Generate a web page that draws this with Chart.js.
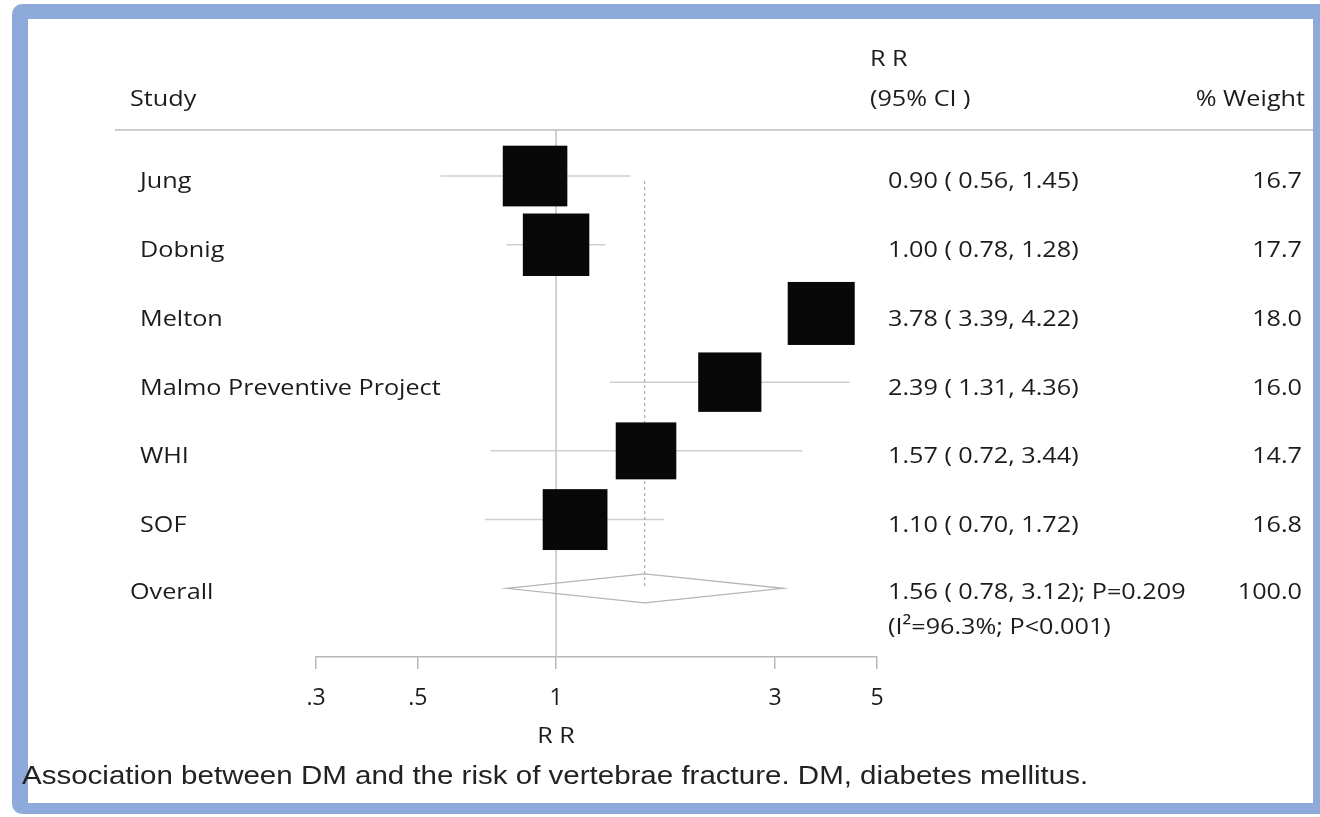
<!DOCTYPE html>
<html>
<head>
<meta charset="utf-8">
<script src="https://cdn.jsdelivr.net/npm/chart.js@4.4.1/dist/chart.umd.min.js"></script>
<style>
  html, body { margin: 0; padding: 0; background: #fff; width: 1320px; height: 817px; overflow: hidden; }
  #frame { position: absolute; left: 12px; top: 4px; width: 1340px; height: 810px; background: #8eaadb; border-radius: 10px; }
  #panel { position: absolute; left: 28px; top: 19px; width: 1285px; height: 784px; background: #fff; }
  #chart { position: absolute; left: 0; top: 0; }
  #caption { position: absolute; left: 22px; top: 760px; font-family: "Liberation Sans", Arial, sans-serif;
             font-size: 26px; line-height: 30px; color: #222; white-space: nowrap;
             transform: scaleX(1.135); transform-origin: 0 0; }
</style>
</head>
<body>
<div id="frame"></div>
<div id="panel"></div>
<canvas id="chart" width="1320" height="817"></canvas>
<div id="caption">Association between DM and the risk of vertebrae fracture. DM, diabetes mellitus.</div>
<script>
// Study-level relative risks with 95% confidence limits and weights
const studies = ['Jung', 'Dobnig', 'Melton', 'Malmo Preventive Project', 'WHI', 'SOF'];
const rr      = [0.90, 1.00, 3.78, 2.39, 1.57, 1.10];
const lower   = [0.56, 0.78, 3.39, 1.31, 0.72, 0.70];
const upper   = [1.45, 1.28, 4.22, 4.36, 3.44, 1.72];
const weights = [16.7, 17.7, 18.0, 16.0, 14.7, 16.8];

// Pooled estimate
const overallLabel  = 'Overall';
const overallRR     = 1.56;
const overallLower  = 0.78;
const overallUpper  = 3.12;
const overallP      = '0.209';
const overallWeight = 100.0;
const heterogeneity = '(I\u00B2=96.3%; P<0.001)';

// Axis ticks
const tickValues = [0.3, 0.5, 1, 3, 5];
const tickLabels = ['.3', '.5', '1', '3', '5'];
const axisTitle  = 'RR';

const FONT = '"Open Sans", "Noto Sans", sans-serif';
const TEXT_COLOR = '#1c1c1c';
const TEXT_SIZE = 22.5;    // px
const TEXT_STRETCH = 1.12; // horizontal stretch of the table lettering
const nRows = studies.length;          // index of the pooled row

const fmt = v => v.toFixed(2);
const ciText = (e, l, u) => `${fmt(e)} ( ${fmt(l)}, ${fmt(u)})`;

const forestPlugin = {
  id: 'forest',
  afterDraw(chart) {
    const { ctx, chartArea: a, scales: { x, y } } = chart;
    const X = v => x.getPixelForValue(v);
    const Y = v => y.getPixelForValue(v);
    const seg = (x1, y1, x2, y2, color, width) => {
      ctx.beginPath();
      ctx.strokeStyle = color;
      ctx.lineWidth = width;
      ctx.moveTo(x1, y1);
      ctx.lineTo(x2, y2);
      ctx.stroke();
    };
    const text = (str, tx, ty, align) => {
      ctx.save();
      ctx.translate(tx, ty);
      ctx.scale(TEXT_STRETCH, 1);
      ctx.textAlign = align;
      ctx.fillText(str, 0, 0);
      ctx.restore();
    };
    ctx.save();

    // header rule and null line
    seg(115, a.top, 1313, a.top, '#bcbcbc', 1.5);
    seg(X(1), a.top, X(1), a.bottom, '#c2c2c2', 1.5);

    // confidence intervals
    studies.forEach((s, i) => seg(X(lower[i]), Y(i), X(upper[i]), Y(i), '#cfcfcf', 1.5));

    // pooled estimate reference line
    ctx.setLineDash([3, 3]);
    seg(X(overallRR), Y(0) + 5, X(overallRR), Y(nRows), '#9c9c9c', 1);
    ctx.setLineDash([]);

    // weight-scaled boxes
    ctx.fillStyle = '#080808';
    studies.forEach((s, i) => {
      const w = 15.8 * Math.sqrt(weights[i]);
      const h = 14.85 * Math.sqrt(weights[i]);
      ctx.fillRect(X(rr[i]) - w / 2, Y(i) - h / 2, w, h);
    });

    // pooled diamond
    const yc = Y(nRows), hh = 14.5;
    ctx.beginPath();
    ctx.moveTo(X(overallLower), yc);
    ctx.lineTo(X(overallRR), yc - hh);
    ctx.lineTo(X(overallUpper), yc);
    ctx.lineTo(X(overallRR), yc + hh);
    ctx.closePath();
    ctx.strokeStyle = '#b4b4b4';
    ctx.lineWidth = 1.3;
    ctx.stroke();

    // table text
    ctx.fillStyle = TEXT_COLOR;
    ctx.font = `${TEXT_SIZE}px ${FONT}`;
    ctx.textBaseline = 'middle';
    text('R R', 870, 60, 'left');
    text('(95% CI )', 870, 100, 'left');
    text('Study', 130, 100, 'left');
    text('% Weight', 1305, 100, 'right');

    const dy = 6;
    studies.forEach((s, i) => {
      const yy = Y(i) + dy;
      text(s, 140, yy, 'left');
      text(ciText(rr[i], lower[i], upper[i]), 888, yy, 'left');
      text(weights[i].toFixed(1), 1302, yy, 'right');
    });
    const yo = Y(nRows) + dy - 2;
    text(overallLabel, 130, yo, 'left');
    text(`${ciText(overallRR, overallLower, overallUpper)}; P=${overallP}`, 888, yo, 'left');
    text(heterogeneity, 888, yo + 35, 'left');
    text(overallWeight.toFixed(1), 1302, yo, 'right');

    // axis title, centred under the null value
    text(axisTitle.split('').join(' '), X(1), 737, 'center');

    ctx.restore();
  }
};

new Chart(document.getElementById('chart'), {
  type: 'scatter',
  data: { datasets: [{ data: rr.map((v, i) => ({ x: v, y: i })), pointRadius: 0 }] },
  options: {
    responsive: false,
    animation: false,
    events: [],
    layout: { padding: { left: 316, right: 443, top: 130, bottom: 68 } },
    plugins: { legend: { display: false }, tooltip: { enabled: false } },
    scales: {
      x: {
        type: 'logarithmic',
        position: 'bottom',
        min: 0.3,
        max: 5,
        bounds: 'data',
        afterBuildTicks: s => { s.ticks = tickValues.map(v => ({ value: v })); },
        afterFit: s => { s.height = 92; },
        ticks: {
          autoSkip: false,
          maxRotation: 0,
          padding: 16,
          color: TEXT_COLOR,
          font: { family: FONT, size: 23 },
          callback: (v, i) => tickLabels[i]
        },
        grid: { drawOnChartArea: false, drawTicks: true, tickLength: 12, color: '#b8b8b8', lineWidth: 1.5 },
        border: { display: true, color: '#b8b8b8', width: 1.5 },
        title: { display: false }
      },
      y: { type: 'linear', display: false, reverse: true, min: -0.67, max: nRows + 1 }
    }
  },
  plugins: [forestPlugin]
});
</script>
</body>
</html>
